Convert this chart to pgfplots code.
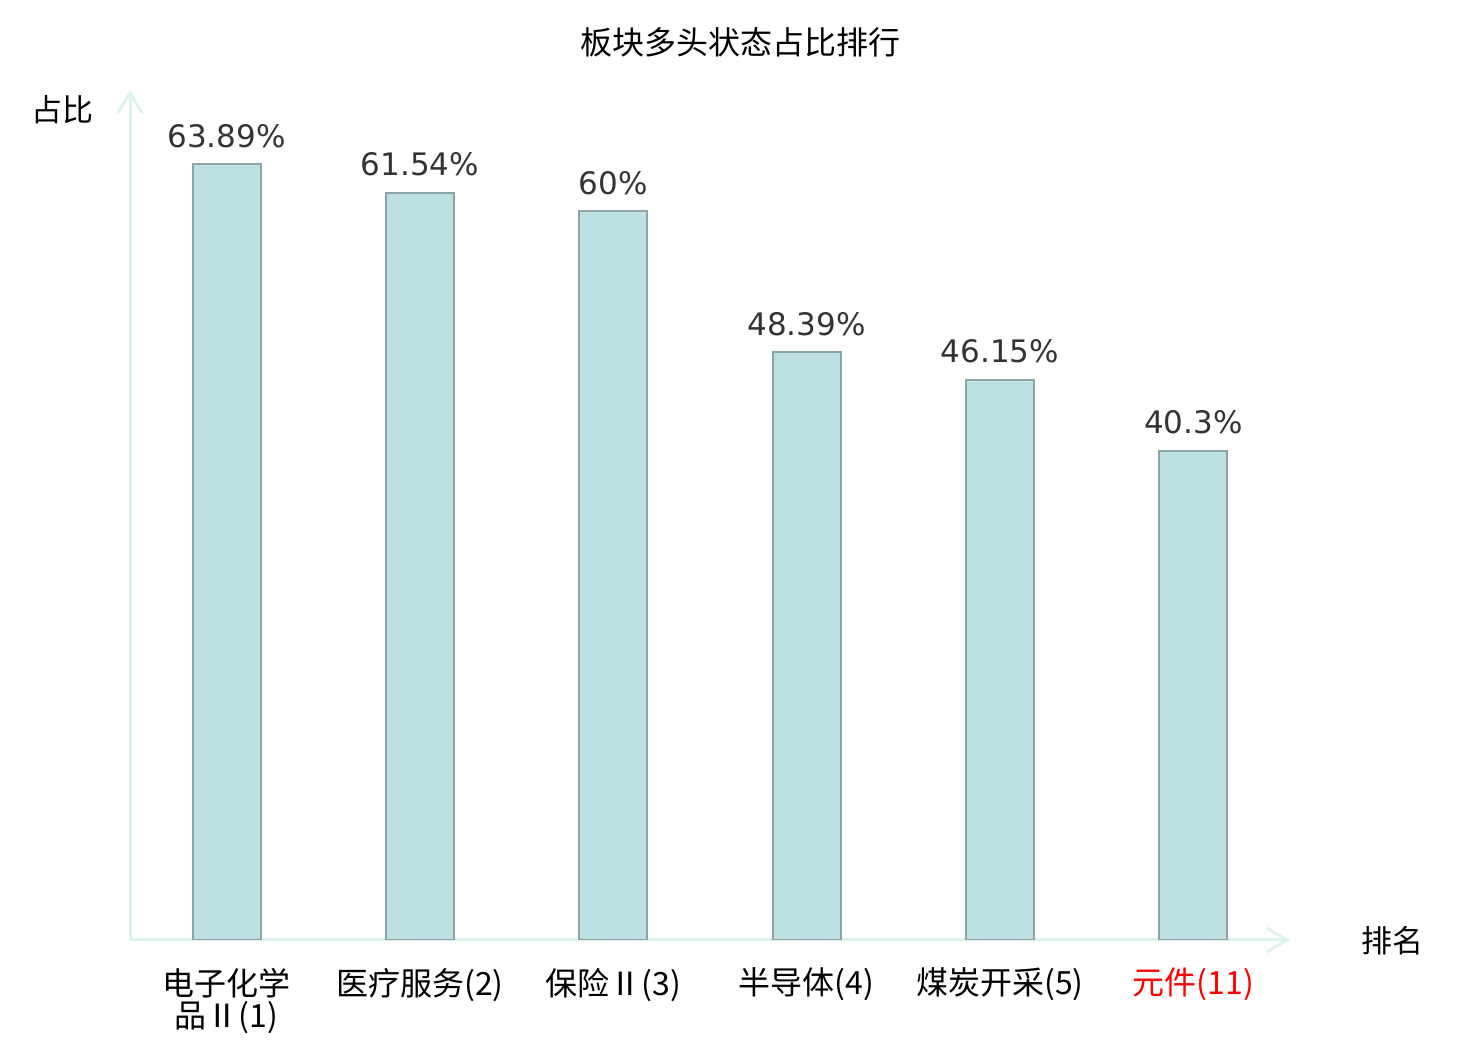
\documentclass[border=0pt]{standalone}
\usepackage{pgfplots}
\pgfplotsset{compat=1.18}
\usetikzlibrary{arrows.meta}
\usepackage{fontspec}
\setmainfont{DejaVu Sans}
\newfontfamily\cjk{Noto Sans CJK SC}
\definecolor{barfill}{HTML}{BCE0E3}
\definecolor{baredge}{HTML}{8CA6A8}
\definecolor{axcol}{HTML}{DDF1EF}
\definecolor{lbl}{HTML}{333333}
\begin{document}
\begin{tikzpicture}
\path[use as bounding box] (0,0) rectangle (740pt,520pt);
\begin{axis}[
  at={(65pt,50pt)}, anchor=south west,
  scale only axis, width=580pt, height=425pt,
  xmin=-0.5, xmax=5.5, ymin=0, ymax=70,
  axis x line=bottom, axis y line=left,
  axis line style={axcol, line width=1.5pt, -{Straight Barb[length=10pt,width=12pt,line width=1.5pt]}},
  ytick=\empty,
  xtick=data,
  xticklabels={{电子化学\\品Ⅱ(1)},{医疗服务(2)},{保险Ⅱ(3)},{半导体(4)},{煤炭开采(5)},{\textcolor{red}{元件(11)}}},
  xticklabel style={font=\cjk\fontsize{16}{16}\selectfont, align=center, anchor=north, yshift=-10.5pt},
  major tick length=0pt,
  /pgf/number format/assume math mode=true,
  ybar, bar width=34pt,
  nodes near coords={\pgfmathprintnumber[fixed,precision=2,assume math mode=true]{\pgfplotspointmeta}\%},
  every node near coord/.append style={font=\fontsize{15.5}{18}\selectfont, text=lbl, anchor=base, yshift=8.5pt, inner sep=0pt},
]
\addplot[fill=barfill, draw=baredge, line width=1pt] coordinates {(0,63.89) (1,61.54) (2,60) (3,48.39) (4,46.15) (5,40.3)};
\end{axis}
\node[font=\cjk\fontsize{16}{18}\selectfont] at (370pt,499pt) {板块多头状态占比排行};
\node[font=\cjk\fontsize{15.5}{18}\selectfont] at (31.5pt,465pt) {占比};
\node[font=\cjk\fontsize{15.5}{18}\selectfont] at (696pt,49.5pt) {排名};
\end{tikzpicture}
\end{document}
